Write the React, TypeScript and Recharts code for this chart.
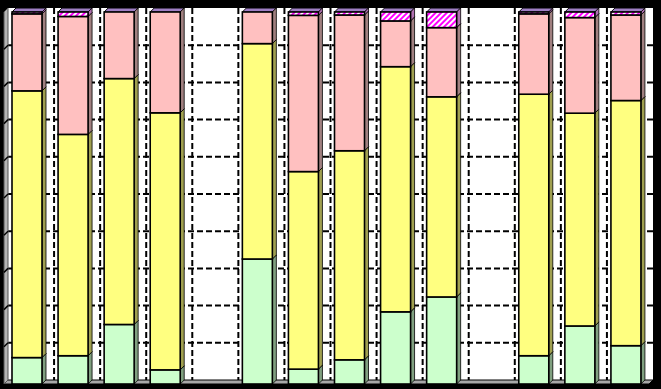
import { BarChart, Bar, XAxis, YAxis, CartesianGrid } from 'recharts'

const categories = ['1', '2', '3', '4', '5', '6', '7', '8', '9', '10', '11', '12', '13', '14']
const green = [7.1, 7.6, 16.0, 3.8, null, 33.6, 4.0, 6.5, 19.4, 23.4, null, 7.6, 15.6, 10.3]
const yellow = [71.7, 59.5, 66.1, 69.1, null, 57.9, 53.1, 56.2, 65.9, 53.8, null, 70.3, 57.2, 65.9]
const pink = [20.7, 31.7, 17.9, 27.1, null, 8.5, 42.0, 36.5, 12.3, 18.6, null, 21.6, 25.7, 23.0]
const magenta = [0.5, 1.2, 0, 0, null, 0, 0.9, 0.8, 2.4, 4.2, null, 0.5, 1.5, 0.8]
const yTicks = [0, 10, 20, 30, 40, 50, 60, 70, 80, 90, 100]

const data = categories.map((name, i) => ({
  name,
  green: green[i],
  yellow: yellow[i],
  pink: pink[i],
  magenta: magenta[i],
}))

const W = 661
const H = 389
const margin = { top: 12, right: 12, bottom: 5, left: 4 }
const DEPTH = 4
const plotW = W - margin.left - margin.right
const plotH = H - margin.top - margin.bottom

// back wall gridlines (shifted by DEPTH through css)
const vPoints = categories.slice(1).map((_, i) => margin.left + (plotW * (i + 1)) / categories.length)
const hPoints = yTicks.slice(1, -1).map((t) => margin.top + plotH * (1 - t / 100))

const TOP_FACE = '#9f7fc4'

const box = (side: string) => (props: any) => {
  const { x, y, width, height, fill } = props
  if (!height || height <= 0 || isNaN(y)) return <g />
  const d = DEPTH
  return (
    <g>
      <polygon
        points={`${x},${y} ${x + width},${y} ${x + width + d},${y - d} ${x + d},${y - d}`}
        fill={TOP_FACE}
        stroke="#000"
        strokeWidth={1}
      />
      <polygon
        points={`${x + width},${y} ${x + width + d},${y - d} ${x + width + d},${y + height - d} ${x + width},${y + height}`}
        fill={side}
        stroke="#000"
        strokeWidth={0.8}
      />
      <rect x={x} y={y} width={width} height={height} fill={fill} stroke="#000" strokeWidth={1.6} />
    </g>
  )
}

function Walls() {
  const L = margin.left
  const R = W - margin.right
  const B = H - margin.bottom
  const T = margin.top
  const d = DEPTH
  return (
    <g>
      <polygon points={`${L},${B} ${R},${B} ${R + d},${B - d} ${L + d},${B - d}`} fill="#a8a8a8" stroke="#000" strokeWidth={1} />
      <polygon points={`${L},${T} ${L + d},${T - d} ${L + d},${B - d} ${L},${B}`} fill="#b4b4b4" stroke="#555" strokeWidth={1} />
      {hPoints.map((y) => (
        <line key={y} x1={L} y1={y} x2={L + d} y2={y - d} stroke="#000" strokeWidth={1.5} />
      ))}
    </g>
  )
}

export default function App() {
  return (
    <div style={{ position: 'fixed', left: 0, top: 0, width: W, height: H, background: '#000' }}>
      <style>{`.recharts-cartesian-grid { transform: translate(${DEPTH}px, -${DEPTH}px); }`}</style>
      <BarChart width={W} height={H} data={data} margin={margin} barSize={30}>
        <defs>
          <pattern id="magHatch" width="4" height="4" patternUnits="userSpaceOnUse" patternTransform="rotate(45)">
            <rect width="4" height="4" fill="#ffffff" />
            <rect width="2" height="4" fill="#ff00ff" />
          </pattern>
        </defs>
        <CartesianGrid
          fill="#ffffff"
          fillOpacity={1}
          stroke="#000"
          strokeWidth={2}
          strokeDasharray="6 3"
          verticalPoints={vPoints}
          horizontalPoints={hPoints}
        />
        <Walls />
        <XAxis dataKey="name" hide />
        <YAxis domain={[0, 100]} ticks={yTicks} hide />
        <Bar dataKey="green" stackId="a" fill="#ccffcc" shape={box('#80a080')} isAnimationActive={false} />
        <Bar dataKey="yellow" stackId="a" fill="#ffff80" shape={box('#a0a050')} isAnimationActive={false} />
        <Bar dataKey="pink" stackId="a" fill="#ffc0c0" shape={box('#a08080')} isAnimationActive={false} />
        <Bar dataKey="magenta" stackId="a" fill="url(#magHatch)" shape={box('#b070b0')} isAnimationActive={false} />
      </BarChart>
    </div>
  )
}
